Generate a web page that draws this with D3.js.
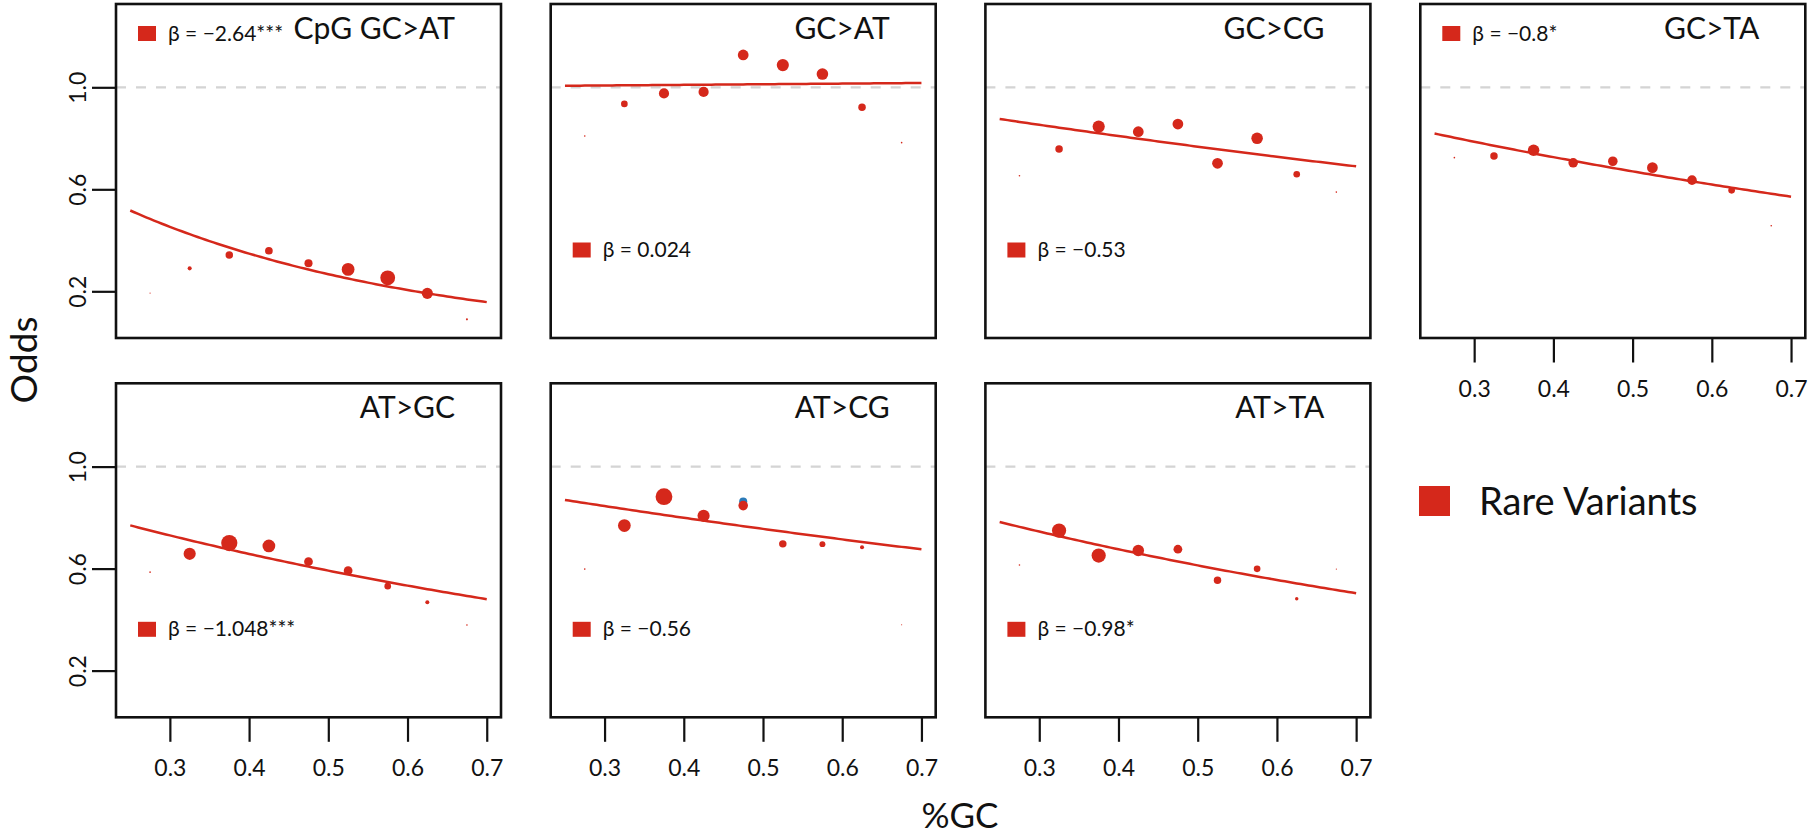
<!DOCTYPE html>
<html>
<head>
<meta charset="utf-8">
<script src="https://cdn.jsdelivr.net/npm/d3@7"></script>
<style>
  html, body { margin: 0; padding: 0; background: #fff; }
  svg { display: block; font-family: Lato, "Open Sans", sans-serif; }
</style>
</head>
<body>
<svg id="chart" width="1808" height="834"></svg>
<script>
// GC-content bins (bin centres)
const gcBins = [0.275, 0.325, 0.375, 0.425, 0.475, 0.525, 0.575, 0.625, 0.675];

// Mutation classes, in panel order
const classes = ["CpG GC>AT", "GC>AT", "GC>CG", "GC>TA", "AT>GC", "AT>CG", "AT>TA"];

// Fitted slopes on the log-odds scale and their significance stars
const betas = [-2.64, 0.024, -0.53, -0.8, -1.048, -0.56, -0.98];
const betaLabels = ["−2.64", "0.024", "−0.53", "−0.8", "−1.048", "−0.56", "−0.98"];
const betaStars = ["***", "", "", "*", "***", "", "*"];

// Observed odds per GC bin (rare variants)
const oddsCpgGcAt = [0.193, 0.290, 0.342, 0.359, 0.310, 0.286, 0.253, 0.192, 0.090];
const oddsGcAt    = [0.809, 0.935, 0.976, 0.982, 1.127, 1.087, 1.052, 0.922, 0.783];
const oddsGcCg    = [0.653, 0.758, 0.846, 0.826, 0.856, 0.702, 0.800, 0.659, 0.589];
const oddsGcTa    = [0.724, 0.731, 0.753, 0.704, 0.710, 0.685, 0.636, 0.596, 0.457];
const oddsAtGc    = [0.586, 0.658, 0.700, 0.689, 0.627, 0.592, 0.531, 0.468, 0.379];
const oddsAtCg    = [0.598, 0.769, 0.882, 0.807, 0.847, 0.697, 0.696, 0.684, 0.380];
const oddsAtTa    = [0.614, 0.749, 0.651, 0.671, 0.676, 0.554, 0.599, 0.482, 0.598];

// Relative bin weights (share of sites in each bin), shown as point area
const wCpgGcAt = [0.005, 0.055, 0.19, 0.20, 0.22, 0.55, 0.74, 0.42, 0.014];
const wGcAt    = [0.009, 0.15, 0.35, 0.35, 0.39, 0.50, 0.45, 0.19, 0.009];
const wGcCg    = [0.009, 0.19, 0.50, 0.39, 0.39, 0.39, 0.45, 0.15, 0.009];
const wGcTa    = [0.009, 0.19, 0.45, 0.31, 0.31, 0.39, 0.31, 0.15, 0.009];
const wAtGc    = [0.009, 0.50, 0.89, 0.55, 0.26, 0.26, 0.15, 0.055, 0.009];
const wAtCg    = [0.009, 0.55, 0.95, 0.50, 0.31, 0.19, 0.12, 0.055, 0.004];
const wAtTa    = [0.009, 0.68, 0.68, 0.45, 0.26, 0.19, 0.15, 0.04, 0.005];

// Second series, only where it peeks out behind the rare-variant points
const commonOddsAtCg = [null, null, null, null, 0.863, null, null, null, null];
const commonWAtCg    = [0, 0, 0, 0, 0.22, 0, 0, 0, 0];

const oddsSeries = [oddsCpgGcAt, oddsGcAt, oddsGcCg, oddsGcTa, oddsAtGc, oddsAtCg, oddsAtTa];
const weightSeries = [wCpgGcAt, wGcAt, wGcCg, wGcTa, wAtGc, wAtCg, wAtTa];

// Axis ticks
const xTicks = [0.3, 0.4, 0.5, 0.6, 0.7];
const yTicks = [0.2, 0.6, 1.0];
const xLabel = "%GC";
const yLabel = "Odds";
const legendLabel = "Rare Variants";

// ---- layout ----
const RED = "#d5281b";
const BLUE = "#2a7ab8";
const panelW = 385, panelH = 334;
const colX = [116, 550.7, 985.4, 1420.3];
const rowY = [4, 383.3];
// which corner holds the slope legend, and which panels carry axes
const legendTop = [true, false, false, true, false, false, false];
const hasYAxis = [true, false, false, false, true, false, false];
const hasXAxis = [false, false, false, true, true, true, true];

const svg = d3.select("#chart");

const x = d3.scaleLinear().domain([0.232, 0.718]).range([0, panelW]);
const y = d3.scaleLinear().domain([0.0169, 1.3267]).range([panelH, 0]);
const r = d3.scaleSqrt().domain([0, 1]).range([0, 8.6]);

classes.forEach((name, i) => {
  const col = i < 4 ? i : i - 4;
  const row = i < 4 ? 0 : 1;
  const g = svg.append("g").attr("transform", `translate(${colX[col]},${rowY[row]})`);

  // reference line at odds = 1
  g.append("line")
    .attr("x1", 0).attr("x2", panelW)
    .attr("y1", y(1)).attr("y2", y(1))
    .attr("stroke", "#d4d4d4").attr("stroke-width", 2.2)
    .attr("stroke-dasharray", "10,10");

  // fitted curve: odds = exp(beta * GC)
  const fitX = d3.range(0.25, 0.7001, 0.005);
  g.append("path")
    .datum(fitX)
    .attr("fill", "none").attr("stroke", RED).attr("stroke-width", 2.5)
    .attr("d", d3.line().x(d => x(d)).y(d => y(Math.exp(betas[i] * d))));

  // hidden-series points (drawn underneath)
  if (name === "AT>CG") {
    g.selectAll("circle.common")
      .data(gcBins.map((b, k) => ({ b, v: commonOddsAtCg[k], w: commonWAtCg[k] })).filter(d => d.v !== null))
      .join("circle").attr("class", "common")
      .attr("cx", d => x(d.b)).attr("cy", d => y(d.v)).attr("r", d => r(d.w))
      .attr("fill", BLUE);
  }

  // observed odds per bin
  g.selectAll("circle.obs")
    .data(gcBins.map((b, k) => ({ b, v: oddsSeries[i][k], w: weightSeries[i][k] })))
    .join("circle").attr("class", "obs")
    .attr("cx", d => x(d.b)).attr("cy", d => y(d.v)).attr("r", d => r(d.w))
    .attr("fill", RED);

  // panel frame
  g.append("rect")
    .attr("x", 0).attr("y", 0).attr("width", panelW).attr("height", panelH)
    .attr("fill", "none").attr("stroke", "#111").attr("stroke-width", 2.6);

  // title, top right
  g.append("text")
    .attr("x", panelW - 46).attr("y", 35)
    .attr("text-anchor", "end")
    .attr("font-size", 30).attr("fill", "#111")
    .text(name);

  // slope legend
  const ly = legendTop[i] ? 22 : 238.5;
  g.append("rect")
    .attr("x", 22).attr("y", ly).attr("width", 18).attr("height", 15)
    .attr("fill", RED);
  const t = g.append("text")
    .attr("x", 52).attr("y", ly + 14.5)
    .attr("font-size", 21).attr("fill", "#111");
  t.append("tspan").text("β = " + betaLabels[i]);
  if (betaStars[i]) t.append("tspan").text(betaStars[i]);

  // axes
  if (hasYAxis[i]) {
    const ya = g.append("g").call(
      d3.axisLeft(y).tickValues(yTicks).tickSize(24).tickPadding(8).tickFormat(d3.format(".1f"))
    );
    ya.select(".domain").remove();
    ya.selectAll(".tick line").attr("stroke", "#111").attr("stroke-width", 2.2);
    ya.selectAll(".tick text")
      .attr("font-size", 23).attr("font-family", "Lato, 'Open Sans', sans-serif").attr("fill", "#111")
      .attr("transform", "rotate(-90)")
      .attr("x", 0).attr("y", -38)
      .attr("dy", "0.35em")
      .attr("text-anchor", "middle");
  }
  if (hasXAxis[i]) {
    const xa = g.append("g").attr("transform", `translate(0,${panelH})`).call(
      d3.axisBottom(x).tickValues(xTicks).tickSize(24.5).tickPadding(12).tickFormat(d3.format(".1f"))
    );
    xa.select(".domain").remove();
    xa.selectAll(".tick line").attr("stroke", "#111").attr("stroke-width", 2.2);
    xa.selectAll(".tick text")
      .attr("font-size", 23).attr("font-family", "Lato, 'Open Sans', sans-serif").attr("fill", "#111")
      .attr("y", 42).attr("dy", "0.72em");
  }
});

// shared axis titles
svg.append("text")
  .attr("transform", "translate(37,360) rotate(-90)")
  .attr("text-anchor", "middle")
  .attr("font-size", 37).attr("fill", "#111")
  .text(yLabel);

svg.append("text")
  .attr("x", 960).attr("y", 828)
  .attr("text-anchor", "middle")
  .attr("font-size", 35).attr("fill", "#111")
  .text(xLabel);

// series legend
svg.append("rect")
  .attr("x", 1419).attr("y", 486).attr("width", 31).attr("height", 30)
  .attr("fill", RED);
svg.append("text")
  .attr("x", 1479).attr("y", 515)
  .attr("font-size", 38).attr("fill", "#111")
  .text(legendLabel);
</script>
</body>
</html>
